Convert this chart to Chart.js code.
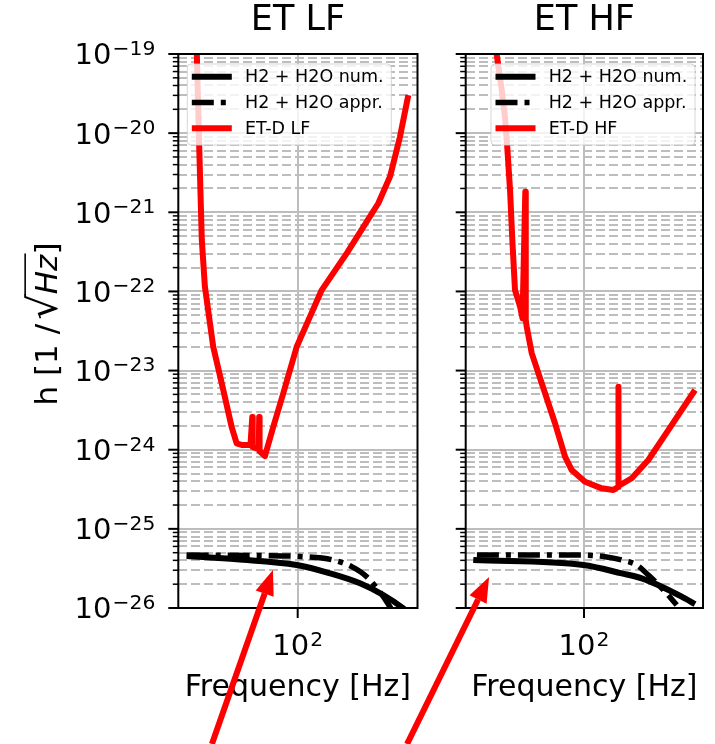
<!DOCTYPE html>
<html>
<head>
<meta charset="utf-8">
<script src="https://cdn.jsdelivr.net/npm/chart.js@4.4.1/dist/chart.umd.min.js"></script>
<style>
  html, body { margin: 0; padding: 0; background: #fff; }
  #wrap { position: relative; width: 715px; height: 744px; }
  #wrap canvas { position: absolute; left: 0; top: 0; }
</style>
</head>
<body>
<div id="wrap">
  <canvas id="lf" width="715" height="744"></canvas>
  <canvas id="hf" width="715" height="744"></canvas>
</div>
<script>
// ---- data ----
const panelTitles = ['ET LF', 'ET HF']
const numLabel = 'H2 + H2O num.'
const apprLabel = 'H2 + H2O appr.'
const detLabels = ['ET-D LF', 'ET-D HF']

// ET-D LF sensitivity
const lfFreq = [15.4, 15.6, 16.3, 17.1, 18.1, 21.1, 25.4, 29.6, 32.5, 35.6, 41.9, 43.34, 43.65, 48.85, 49.2, 49.56, 54.7, 63.8, 76.7, 98.2, 125.4, 155.6, 246.6, 441.5, 547.5, 658.2, 767.3]
const lfStrain = [2.0e-19, 1.0e-19, 6.75e-21, 4.47e-22, 1.15e-22, 2.0e-23, 5.68e-24, 1.95e-24, 1.2e-24, 1.15e-24, 1.15e-24, 2.59e-24, 1.08e-24, 1.02e-24, 2.59e-24, 9.64e-25, 8.3e-25, 1.95e-24, 5.17e-24, 2.0e-23, 4.8e-23, 1.04e-22, 3.03e-22, 1.3e-21, 2.82e-21, 9.02e-21, 3.03e-20]

// ET-D HF sensitivity
const hfFreq = [19.8, 20.0, 21.96, 23.3, 24.3, 25.6, 26.7, 28.05, 30.8, 32.2, 33.9, 34.2, 34.8, 38.2, 48.8, 58.6, 70.5, 79.7, 101.9, 138.6, 171.6, 187.1, 188.1, 189.2, 240.7, 326.9, 472.5, 772.7]
const hfStrain = [2.0e-19, 1.0e-19, 3.51e-20, 1.61e-20, 6.75e-21, 1.91e-21, 4.47e-22, 1.04e-22, 6.41e-23, 4.57e-23, 1.82e-21, 4.35e-23, 3.58e-23, 1.65e-23, 5.17e-24, 2.16e-24, 8.16e-25, 5.53e-25, 3.94e-25, 3.25e-25, 3.1e-25, 3.38e-25, 6.25e-24, 3.48e-25, 4.36e-25, 7.41e-25, 1.77e-24, 5.68e-24]

// H2 + H2O residual gas noise, LF panel
const lfNumFreq = [12.94, 32.5, 98.2, 181.3, 315, 484, 699.7, 790]
const lfNum = [4.54e-26, 4.12e-26, 3.49e-26, 2.74e-26, 2.05e-26, 1.46e-26, 9.9e-27, 8.4e-27]
const lfApprFreq = [12.94, 49.9, 110.9, 192.7, 270.4, 356.5, 484, 568]
const lfAppr = [4.67e-26, 4.6e-26, 4.45e-26, 4.04e-26, 3.33e-26, 2.48e-26, 1.39e-26, 9.4e-27]

// H2 + H2O residual gas noise, HF panel
const hfNumFreq = [13.0, 98.7, 200.3, 289.5, 418.4, 604.7, 772.7]
const hfNum = [4.04e-26, 3.49e-26, 2.74e-26, 2.37e-26, 1.86e-26, 1.39e-26, 1.12e-26]
const hfApprFreq = [13.9, 95.9, 147.2, 200.3, 264, 326.9, 444.6, 551.5]
const hfAppr = [4.67e-26, 4.67e-26, 4.45e-26, 4.04e-26, 3.49e-26, 2.61e-26, 1.61e-26, 1.09e-26]

// axis ranges and ticks
const xRangeLF = [11.09, 908.6]
const xRangeHF = [11.31, 895]
const yRange = [1e-26, 1e-19]
const yTickValues = [1e-26, 1e-25, 1e-24, 1e-23, 1e-22, 1e-21, 1e-20, 1e-19]
const yTickLabels = ['10^−26', '10^−25', '10^−24', '10^−23', '10^−22', '10^−21', '10^−20', '10^−19']
const xTickValues = [100]
const xTickLabels = ['10^2']
const yAxisTitle = ['h [1 /', '√', 'Hz', ']']

// red annotation arrows, [freq, strain] of tail and tip in each panel
const lfArrowTail = [20.6, 1.91e-28]
const lfArrowTip = [63.4, 3.02e-26]
const hfArrowTail = [3.84, 1.91e-28]
const hfArrowTip = [17.4, 2.46e-26]

// ---- helpers ----
const FONT = 'DejaVu Sans'
Chart.defaults.font.family = FONT
Chart.defaults.color = '#000'

const toPoints = (xs, ys) => xs.map((x, i) => ({ x: x, y: ys[i] }))
const sameDecade = (a, b) => Math.abs(Math.log10(a) - Math.log10(b)) < 1e-6

function minorYTicks() {
  const out = []
  yTickValues.forEach((d, k) => {
    if (k === yTickValues.length - 1) {
      out.push({ value: d, major: true })
      return
    }
    for (let m = 1; m <= 9; m++) out.push({ value: m * d, major: m === 1 })
  })
  return out
}

// "10^-19" style label, base + raised exponent; anchor 'right' or 'center'
function drawPow(ctx, label, x, yMid, anchor) {
  const [base, exp] = label.split('^')
  const bs = 29, es = 20.3
  ctx.font = bs + 'px "' + FONT + '"'
  const wb = ctx.measureText(base).width
  ctx.font = es + 'px "' + FONT + '"'
  const we = ctx.measureText(exp).width
  const total = wb + we + 1
  const x0 = anchor === 'right' ? x - total : x - total / 2
  const baseLine = yMid + 0.36 * bs
  ctx.fillStyle = '#000'
  ctx.textAlign = 'left'
  ctx.textBaseline = 'alphabetic'
  ctx.font = bs + 'px "' + FONT + '"'
  ctx.fillText(base, x0, baseLine)
  ctx.font = es + 'px "' + FONT + '"'
  ctx.fillText(exp, x0 + wb + 1, baseLine - 0.33 * bs)
}

function drawYTitle(ctx, cx, cy) {
  const s = 31
  const fN = s + 'px "' + FONT + '"'
  const fR = (s * 1.3) + 'px "' + FONT + '"'
  const fI = 'italic ' + s + 'px "' + FONT + '"'
  const parts = [[yAxisTitle[0], fN], [yAxisTitle[1], fR], [yAxisTitle[2], fI], [yAxisTitle[3], fN]]
  const widths = parts.map(p => { ctx.font = p[1]; return ctx.measureText(p[0]).width })
  const gap = 4
  const total = widths.reduce((a, b) => a + b, 0) + gap
  ctx.save()
  ctx.translate(cx, cy)
  ctx.rotate(-Math.PI / 2)
  ctx.fillStyle = '#000'
  ctx.textBaseline = 'alphabetic'
  ctx.textAlign = 'left'
  const bl = 0.36 * s
  let x = -total / 2
  let barY = 0, barX0 = 0
  parts.forEach((p, i) => {
    ctx.font = p[1]
    if (i === 1) {
      x += gap
      const m = ctx.measureText(p[0])
      barY = bl - m.actualBoundingBoxAscent + 1
      barX0 = x + m.actualBoundingBoxRight - 1
    }
    ctx.fillText(p[0], x, bl)
    x += widths[i]
    if (i === 2) {
      ctx.strokeStyle = '#000'
      ctx.lineWidth = 1.6
      ctx.beginPath()
      ctx.moveTo(barX0, barY)
      ctx.lineTo(x + 1, barY)
      ctx.stroke()
    }
  })
  ctx.restore()
}

// tick marks, tick labels, frame, legend box and arrows
const extras = {
  id: 'extras',
  afterDatasetsDraw(chart, args, opts) {
    const { ctx, chartArea: a, scales: { x, y } } = chart
    ctx.save()
    ctx.strokeStyle = '#000'
    y.ticks.forEach(t => {
      const py = y.getPixelForValue(t.value)
      const len = t.major ? 10 : 5.5
      ctx.lineWidth = t.major ? 2 : 1.5
      ctx.beginPath()
      ctx.moveTo(a.left - len, py)
      ctx.lineTo(a.left, py)
      ctx.stroke()
      if (opts.showY && t.major) {
        const k = yTickValues.findIndex(v => sameDecade(v, t.value))
        if (k >= 0) drawPow(ctx, yTickLabels[k], a.left - 23, py, 'right')
      }
    })
    x.ticks.forEach(t => {
      const px = x.getPixelForValue(t.value)
      ctx.lineWidth = 2
      ctx.beginPath()
      ctx.moveTo(px, a.bottom)
      ctx.lineTo(px, a.bottom + 10)
      ctx.stroke()
      const k = xTickValues.findIndex(v => sameDecade(v, t.value))
      if (k >= 0) drawPow(ctx, xTickLabels[k], px, a.bottom + 37, 'center')
    })
    ctx.lineWidth = 2
    ctx.strokeRect(a.left, a.top, a.right - a.left, a.bottom - a.top)
    ctx.restore()
    if (opts.showY) drawYTitle(ctx, 46, 324)
  },
  afterDraw(chart, args, opts) {
    const { ctx, chartArea: a, scales: { x, y } } = chart

    // legend
    const w = 204, h = 81
    const x0 = opts.legendSide === 'left' ? a.left + 9 : a.right - 8 - w
    const y0 = a.top + 10
    ctx.save()
    ctx.beginPath()
    ctx.roundRect(x0, y0, w, h, 4)
    ctx.fillStyle = 'rgba(255,255,255,0.8)'
    ctx.fill()
    ctx.strokeStyle = 'rgba(204,204,204,0.8)'
    ctx.lineWidth = 1
    ctx.stroke()
    chart.data.datasets.forEach((ds, i) => {
      const cy = y0 + 12.7 + i * 25.8
      ctx.beginPath()
      ctx.setLineDash(ds.borderDash || [])
      ctx.strokeStyle = ds.borderColor
      ctx.lineWidth = ds.borderWidth
      ctx.moveTo(x0 + 4.5, cy)
      ctx.lineTo(x0 + 44.5, cy)
      ctx.stroke()
      ctx.setLineDash([])
      ctx.fillStyle = '#000'
      ctx.font = '17.5px "' + FONT + '"'
      ctx.textBaseline = 'middle'
      ctx.fillText(ds.label, x0 + 57.7, cy + 1)
    })
    ctx.restore()

    // arrow
    const ar = opts.arrow
    if (ar) {
      const p0 = [x.getPixelForValue(ar.tail[0]), y.getPixelForValue(ar.tail[1])]
      const p1 = [x.getPixelForValue(ar.tip[0]), y.getPixelForValue(ar.tip[1])]
      const ang = Math.atan2(p1[1] - p0[1], p1[0] - p0[0])
      const hl = 25, hw = 9.5
      const bx = p1[0] - hl * Math.cos(ang), by = p1[1] - hl * Math.sin(ang)
      ctx.save()
      ctx.strokeStyle = '#ff0000'
      ctx.fillStyle = '#ff0000'
      ctx.lineWidth = 6
      ctx.beginPath()
      ctx.moveTo(p0[0], p0[1])
      ctx.lineTo(bx, by)
      ctx.stroke()
      ctx.beginPath()
      ctx.moveTo(p1[0], p1[1])
      ctx.lineTo(bx + hw * Math.sin(ang), by - hw * Math.cos(ang))
      ctx.lineTo(bx - hw * Math.sin(ang), by + hw * Math.cos(ang))
      ctx.closePath()
      ctx.fill()
      ctx.restore()
    }
  }
}

function makeChart(id, cfg) {
  const datasets = [
    {
      label: numLabel, data: toPoints(cfg.numF, cfg.num),
      borderColor: '#000', borderWidth: 6, order: 2, cubicInterpolationMode: 'monotone'
    },
    {
      label: apprLabel, data: toPoints(cfg.apprF, cfg.appr),
      borderColor: '#000', borderWidth: 5.5, borderDash: [22, 7, 5, 7], order: 1, cubicInterpolationMode: 'monotone'
    },
    {
      label: cfg.detLabel, data: toPoints(cfg.detF, cfg.det),
      borderColor: '#ff0000', borderWidth: 6, order: 0
    }
  ]
  datasets.forEach(d => {
    d.pointRadius = 0
    d.fill = false
    d.clip = 0
    d.borderJoinStyle = 'round'
  })

  return new Chart(document.getElementById(id), {
    type: 'line',
    data: { datasets: datasets },
    options: {
      responsive: false,
      animation: false,
      devicePixelRatio: 1,
      events: [],
      layout: { padding: cfg.padding },
      plugins: {
        legend: { display: false },
        tooltip: { enabled: false },
        title: {
          display: true, text: cfg.title, fullSize: false,
          font: { size: 35, weight: 'normal' }, color: '#000',
          padding: { top: 0, bottom: 12 }
        },
        extras: { legendSide: cfg.legendSide, arrow: cfg.arrow, showY: cfg.showY }
      },
      scales: {
        x: {
          type: 'logarithmic', bounds: 'data',
          min: cfg.xRange[0], max: cfg.xRange[1],
          afterBuildTicks: s => { s.ticks = xTickValues.map(v => ({ value: v, major: true })) },
          afterFit: s => { s.height = 136 },
          grid: { drawTicks: false, color: '#bdbdbd', lineWidth: 2 },
          border: { display: false },
          ticks: { display: false, autoSkip: false },
          title: {
            display: true, text: 'Frequency [Hz]',
            font: { size: 30 }, padding: { top: 0, bottom: 38 }
          }
        },
        y: {
          type: 'logarithmic', bounds: 'data',
          min: yRange[0], max: yRange[1],
          afterBuildTicks: s => { s.ticks = minorYTicks() },
          afterFit: s => { s.width = cfg.yWidth },
          grid: { drawTicks: false, color: '#bdbdbd', lineWidth: 2 },
          border: {
            display: false,
            dash: c => (c.tick && !c.tick.major) ? [9, 4] : []
          },
          ticks: { display: false, autoSkip: false },
          title: { display: false }
        }
      }
    },
    plugins: [extras]
  })
}

makeChart('lf', {
  title: panelTitles[0], detLabel: detLabels[0],
  detF: lfFreq, det: lfStrain,
  numF: lfNumFreq, num: lfNum, apprF: lfApprFreq, appr: lfAppr,
  xRange: xRangeLF, showY: true, yWidth: 178.3,
  padding: { left: 0, right: 297.5, top: 0, bottom: 0 },
  legendSide: 'left',
  arrow: { tail: lfArrowTail, tip: lfArrowTip }
})

makeChart('hf', {
  title: panelTitles[1], detLabel: detLabels[1],
  detF: hfFreq, det: hfStrain,
  numF: hfNumFreq, num: hfNum, apprF: hfApprFreq, appr: hfAppr,
  xRange: xRangeHF, showY: false, yWidth: 0,
  padding: { left: 465.7, right: 12, top: 0, bottom: 0 },
  legendSide: 'right',
  arrow: { tail: hfArrowTail, tip: hfArrowTip }
})
</script>
</body>
</html>
